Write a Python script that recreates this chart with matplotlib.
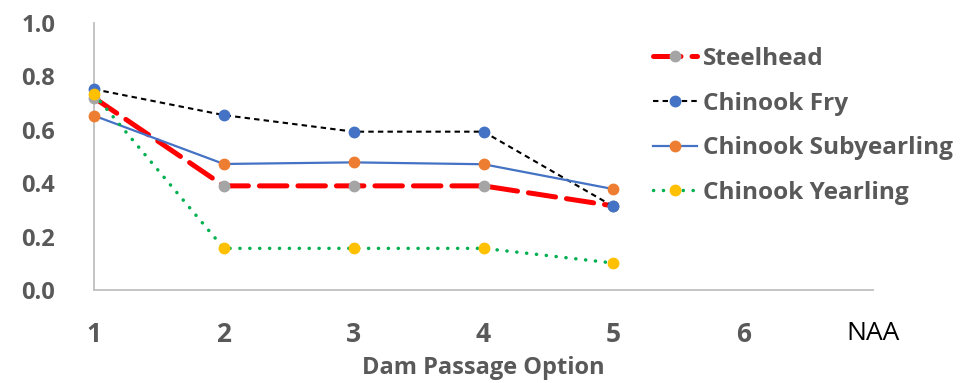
import matplotlib
matplotlib.use("Agg")
import matplotlib.pyplot as plt

# Data
options = [1, 2, 3, 4, 5]
tick_pos = [1, 2, 3, 4, 5, 6, 7]
tick_labels = ["1", "2", "3", "4", "5", "6", "NAA"]
steelhead = [0.72, 0.39, 0.39, 0.39, 0.315]
chinook_fry = [0.752, 0.655, 0.593, 0.593, 0.313]
chinook_subyearling = [0.653, 0.472, 0.478, 0.471, 0.378]
chinook_yearling = [0.734, 0.156, 0.156, 0.156, 0.101]

plt.rcParams['font.family'] = ['Open Sans', 'DejaVu Sans']
GREY_TXT = '#595959'
AXIS = '#BFBFBF'

fig = plt.figure(figsize=(9.63, 3.83), dpi=100)
ax = fig.add_axes([94 / 963, 93 / 383, (873 - 94) / 963, (290 - 23) / 383])

ms = 7.5
ax.plot(options, steelhead, color='#FF0000', lw=3.6, dashes=(5.5, 2.2),
        dash_capstyle='round', marker='o', ms=ms, mfc='#A5A5A5', mec='#A5A5A5',
        label='Steelhead', clip_on=False, zorder=3)
ax.plot(options, chinook_fry, color='black', lw=1.5, dashes=(2.6, 2.0),
        marker='o', ms=ms, mfc='#4472C4', mec='#4472C4',
        label='Chinook Fry', clip_on=False, zorder=4)
ax.plot(options, chinook_subyearling, color='#4472C4', lw=1.6,
        marker='o', ms=ms, mfc='#ED7D31', mec='#ED7D31',
        label='Chinook Subyearling', clip_on=False, zorder=5)
ax.plot(options, chinook_yearling, color='#00B050', lw=2.5, dashes=(0.05, 2.8),
        dash_capstyle='round', marker='o', ms=ms, mfc='#FFC000', mec='#FFC000',
        label='Chinook Yearling', clip_on=False, zorder=6)

ax.set_xlim(1, 7)
ax.set_ylim(0, 1.0)
ax.set_yticks([0.0, 0.2, 0.4, 0.6, 0.8, 1.0])
ax.set_yticklabels(['0.0', '0.2', '0.4', '0.6', '0.8', '1.0'])
ax.set_xticks(tick_pos)
ax.set_xticklabels(tick_labels)

ax.tick_params(axis='y', length=0, pad=28, labelsize=17, labelcolor=GREY_TXT)
ax.tick_params(axis='x', length=0, pad=22, labelsize=19, labelcolor=GREY_TXT)
for lab in ax.get_yticklabels() + ax.get_xticklabels():
    lab.set_fontweight('bold')
naa = ax.get_xticklabels()[-1]
naa.set_fontweight('normal')
naa.set_color('black')
naa.set_fontsize(19)

for side in ['top', 'right']:
    ax.spines[side].set_visible(False)
for side in ['left', 'bottom']:
    ax.spines[side].set_color(AXIS)
    ax.spines[side].set_linewidth(1.3)

ax.set_xlabel('Dam Passage Option', fontsize=17, fontweight='bold',
              color=GREY_TXT, labelpad=6)

leg = ax.legend(loc='upper left', bbox_to_anchor=(653 / 963, (383 - 47) / 383),
                bbox_transform=fig.transFigure, frameon=False,
                prop={'weight': 'bold', 'size': 17.6},
                handlelength=1.8, handletextpad=0.25, labelspacing=0.84,
                borderaxespad=0, borderpad=0)
for t in leg.get_texts():
    t.set_color(GREY_TXT)

fig.savefig('out.png', dpi=100)
